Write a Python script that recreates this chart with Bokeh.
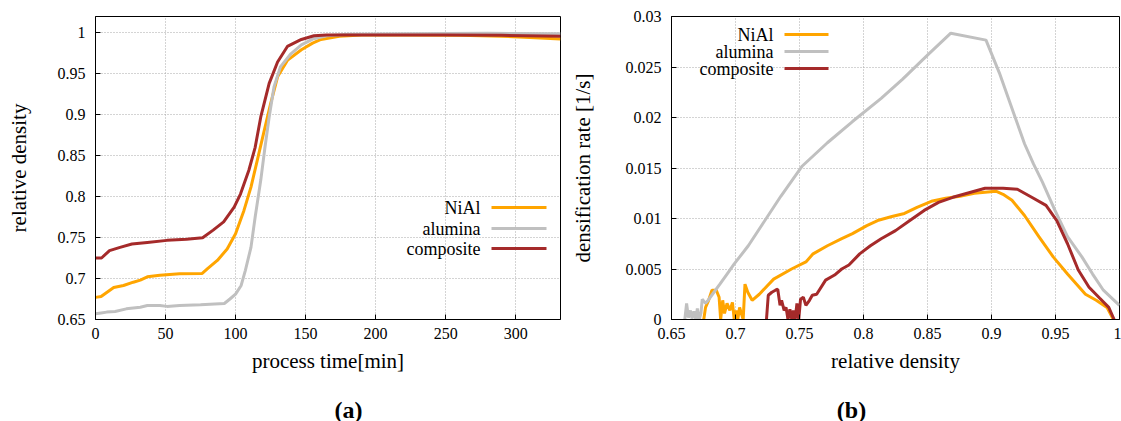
from bokeh.plotting import figure
from bokeh.layouts import row, column
from bokeh.models import (FixedTicker, CustomJSTickFormatter, Label, BoxAnnotation, Range1d)
from bokeh.embed import file_html
from bokeh.resources import INLINE

# ---------------- data: panel (a) relative density vs process time ----------------
time_nial = [0, 4, 8, 13, 20, 27, 32, 37, 46, 60, 76, 80, 87, 94, 100, 106, 111, 115.5,
             120, 125, 130, 137, 147, 155, 161, 174, 190, 220, 260, 290, 310, 332]
dens_nial = [0.677, 0.678, 0.683, 0.689, 0.6915, 0.6955, 0.698, 0.702, 0.704, 0.7058, 0.706,
             0.712, 0.722, 0.736, 0.7546, 0.783, 0.8115, 0.844, 0.877, 0.913, 0.946, 0.966,
             0.979, 0.987, 0.9915, 0.9955, 0.997, 0.997, 0.9965, 0.9955, 0.994, 0.992]

time_alumina = [0, 4, 8, 14, 22, 32, 37, 46, 51, 60, 75, 92, 96, 100, 104, 107, 111, 114,
                118, 121, 124, 127.5, 132, 139.5, 147, 155, 165, 180, 220, 280, 332]
dens_alumina = [0.657, 0.658, 0.659, 0.6598, 0.663, 0.665, 0.667, 0.667, 0.666, 0.667, 0.668,
                0.6695, 0.675, 0.681, 0.6915, 0.71, 0.738, 0.775, 0.82, 0.86, 0.897, 0.934,
                0.958, 0.974, 0.985, 0.992, 0.996, 0.998, 0.9985, 0.999, 0.9985]

time_comp = [0, 4.3, 10, 17.5, 26, 37, 51, 65, 76.5, 84, 91.5, 99, 103.5, 109.5, 114, 118,
             124, 130, 137, 147, 156, 165, 200, 250, 290, 332]
dens_comp = [0.725, 0.725, 0.734, 0.738, 0.742, 0.744, 0.7465, 0.748, 0.7497, 0.759, 0.769,
             0.787, 0.803, 0.832, 0.860, 0.897, 0.938, 0.964, 0.983, 0.9915, 0.996, 0.997,
             0.997, 0.997, 0.9965, 0.9955]

# ---------------- data: panel (b) densification rate vs relative density ----------------
rd_alumina = [0.6604, 0.6618, 0.6632, 0.6648, 0.6660, 0.6675, 0.6690, 0.6702, 0.6716, 0.6730,
              0.6740, 0.6766, 0.6780, 0.682, 0.6878, 0.6934, 0.699, 0.710, 0.7214, 0.7354,
              0.7522, 0.7718, 0.7914, 0.8138, 0.8306, 0.8502, 0.8682, 0.8957, 0.9062, 0.9174,
              0.9258, 0.9328, 0.9398, 0.9496, 0.9594, 0.9706, 0.979, 0.9874, 0.9958, 1.0]
rate_alumina = [0, 0.0016, 0.0002, 0.0009, 0.0001, 0.0008, 0, 0.0011, 0, 0.0006,
                0.002, 0.0016, 0.0018, 0.0025, 0.0035, 0.0045, 0.0055, 0.0073, 0.0095, 0.0122,
                0.0152, 0.0175, 0.0196, 0.0219, 0.0238, 0.0262, 0.02835, 0.02766, 0.0244, 0.0204,
                0.0174, 0.0154, 0.0136, 0.0108, 0.0082, 0.0062, 0.0045, 0.0029, 0.0019, 0.0014]

rd_nial = [0.6752, 0.6766, 0.679, 0.6816, 0.685, 0.6872, 0.6884, 0.690, 0.6914, 0.6934, 0.6956,
           0.6976, 0.699, 0.7005, 0.7018, 0.7032, 0.706, 0.7074, 0.7096, 0.713, 0.7186, 0.7298,
           0.7438, 0.755, 0.7606, 0.7718, 0.783, 0.7914, 0.8026, 0.811, 0.8222, 0.832, 0.8418,
           0.853, 0.8642, 0.8754, 0.8866, 0.9034, 0.909, 0.916, 0.9258, 0.937, 0.9482, 0.9594,
           0.9734, 0.9818, 0.9902, 0.9952]
rate_nial = [0, 0.0012, 0.0019, 0.0029, 0.0029, 0.0022, 0, 0.0019, 0.0006, 0.0016, 0.0009,
             0.0017, 0, 0.0009, 0, 0.0012, 0, 0.0035, 0.0027, 0.0019, 0.0025, 0.004,
             0.005, 0.0057, 0.0065, 0.0073, 0.008, 0.0085, 0.0093, 0.0098, 0.0102, 0.0105, 0.0111,
             0.0117, 0.012, 0.0122, 0.0125, 0.0127, 0.0124, 0.0118, 0.0103, 0.0082, 0.0062, 0.0045,
             0.0025, 0.0019, 0.0012, 0]

rd_comp = [0.7242, 0.7256, 0.7284, 0.7312, 0.733, 0.7348, 0.736, 0.738, 0.7395, 0.741, 0.7425,
           0.744, 0.7452, 0.7466, 0.748, 0.7494, 0.7508, 0.753, 0.755, 0.7578, 0.76, 0.7634,
           0.7704, 0.7774, 0.783, 0.7886, 0.797, 0.8054, 0.8138, 0.825, 0.8362, 0.8474, 0.8586,
           0.8698, 0.8838, 0.895, 0.909, 0.9202, 0.9314, 0.9426, 0.951, 0.9594, 0.9678, 0.9762,
           0.9846, 0.9916, 0.9958]
rate_comp = [0, 0.0024, 0.0027, 0.0029, 0.003, 0.0014, 0.0019, 0.0009, 0.0012, 0, 0.001,
             0, 0.0009, 0, 0.0016, 0, 0.002, 0.0022, 0.0014, 0.0019, 0.0024, 0.0025,
             0.0039, 0.0044, 0.005, 0.0054, 0.0065, 0.0073, 0.008, 0.0088, 0.0098, 0.0108, 0.0116,
             0.0121, 0.0126, 0.013, 0.013, 0.0129, 0.0121, 0.0113, 0.0098, 0.0075, 0.0049, 0.0032,
             0.0021, 0.0012, 0]

series_names = ["NiAl", "alumina", "composite"]
series_colors = ["#FFA500", "#C0C0C0", "#A52A2A"]
captions = ["(a)", "(b)"]

ticks_a_x = [0, 50, 100, 150, 200, 250, 300]
ticks_a_y = [0.65, 0.7, 0.75, 0.8, 0.85, 0.9, 0.95, 1.0]
ticks_b_x = [0.65, 0.7, 0.75, 0.8, 0.85, 0.9, 0.95, 1.0]
ticks_b_y = [0, 0.005, 0.01, 0.015, 0.02, 0.025, 0.03]

FONT = "Liberation Serif"
fmt = CustomJSTickFormatter(code="return String(Math.round(tick*100000)/100000);")


def style(p, xticks, yticks, xlabel, ylabel, ylabel_standoff):
    p.outline_line_color = "black"
    p.outline_line_width = 1
    p.background_fill_color = "white"
    p.border_fill_color = "white"
    p.xaxis.ticker = FixedTicker(ticks=xticks)
    p.yaxis.ticker = FixedTicker(ticks=yticks)
    for ax in (p.xaxis[0], p.yaxis[0]):
        ax.formatter = fmt
        ax.axis_line_color = "black"
        ax.major_tick_in = 5
        ax.major_tick_out = 0
        ax.major_tick_line_color = "black"
        ax.minor_tick_line_color = None
        ax.major_label_text_font = FONT
        ax.major_label_text_font_size = "16px"
        ax.major_label_text_color = "black"
        ax.axis_label_text_font = FONT
        ax.axis_label_text_font_size = "21px"
        ax.axis_label_text_font_style = "normal"
        ax.axis_label_text_color = "black"
    p.xaxis.axis_label = xlabel
    p.yaxis.axis_label = ylabel
    p.xaxis.major_label_standoff = 8
    p.xaxis.axis_label_standoff = 7
    p.yaxis.major_label_standoff = 10
    p.yaxis.axis_label_standoff = ylabel_standoff
    for g in (p.xgrid, p.ygrid):
        g.grid_line_color = "#a8a8a8"
        g.grid_line_dash = "1 2"
        g.grid_line_width = 1


def legend(p, text_right, line_left, line_right, ys):
    for name, color, y in zip(series_names, series_colors, ys):
        p.add_layout(Label(x=text_right, y=y, x_units="screen", y_units="screen", text=name,
                           text_align="right", text_baseline="middle", text_font=FONT,
                           text_font_size="18px", text_color="black"))
        p.add_layout(BoxAnnotation(left=line_left, right=line_right, bottom=y - 1.5, top=y + 1.5,
                                   left_units="screen", right_units="screen",
                                   top_units="screen", bottom_units="screen",
                                   fill_color=color, fill_alpha=1.0, line_color=None))


# ---------------- panel (a) ----------------
pa = figure(frame_width=465, frame_height=303, output_backend="svg", toolbar_location=None,
            x_range=Range1d(0, 332), y_range=Range1d(0.65, 1.0195),
            min_border_left=95, min_border_right=5, min_border_top=16, min_border_bottom=76)
style(pa, ticks_a_x, ticks_a_y, "process time[min]", "relative density", 24)
for xs, ys, c in zip([time_nial, time_alumina, time_comp], [dens_nial, dens_alumina, dens_comp],
                     series_colors):
    pa.line(xs, ys, line_color=c, line_width=3)
legend(pa, 385, 396, 451, [112, 91, 71])

# ---------------- panel (b) ----------------
pb = figure(frame_width=448, frame_height=303, output_backend="svg", toolbar_location=None,
            x_range=Range1d(0.65, 1.0), y_range=Range1d(0, 0.03),
            min_border_left=106, min_border_right=2, min_border_top=16, min_border_bottom=76)
style(pb, ticks_b_x, ticks_b_y, "relative density", "densification rate [1/s]", 28)
for xs, ys, c in zip([rd_nial, rd_alumina, rd_comp], [rate_nial, rate_alumina, rate_comp],
                     series_colors):
    pb.line(xs, ys, line_color=c, line_width=3)
legend(pb, 102, 113, 157, [285, 268, 251])

# ---------------- captions strip ----------------
cap = figure(frame_width=1121, frame_height=26, output_backend="svg", toolbar_location=None,
             x_axis_type=None, y_axis_type=None, min_border_left=0, min_border_right=0,
             min_border_top=0, min_border_bottom=0,
             x_range=Range1d(0, 1), y_range=Range1d(0, 1))
cap.outline_line_color = None
cap.grid.visible = False
for text, xpos in zip(captions, [348, 851]):
    cap.add_layout(Label(x=xpos, y=12, x_units="screen", y_units="screen", text=text,
                         text_align="center", text_baseline="alphabetic", text_font=FONT,
                         text_font_size="24px", text_font_style="bold", text_color="black"))

layout = column(row(pa, pb), cap)
open("out.html", "w").write(file_html(layout, INLINE))
